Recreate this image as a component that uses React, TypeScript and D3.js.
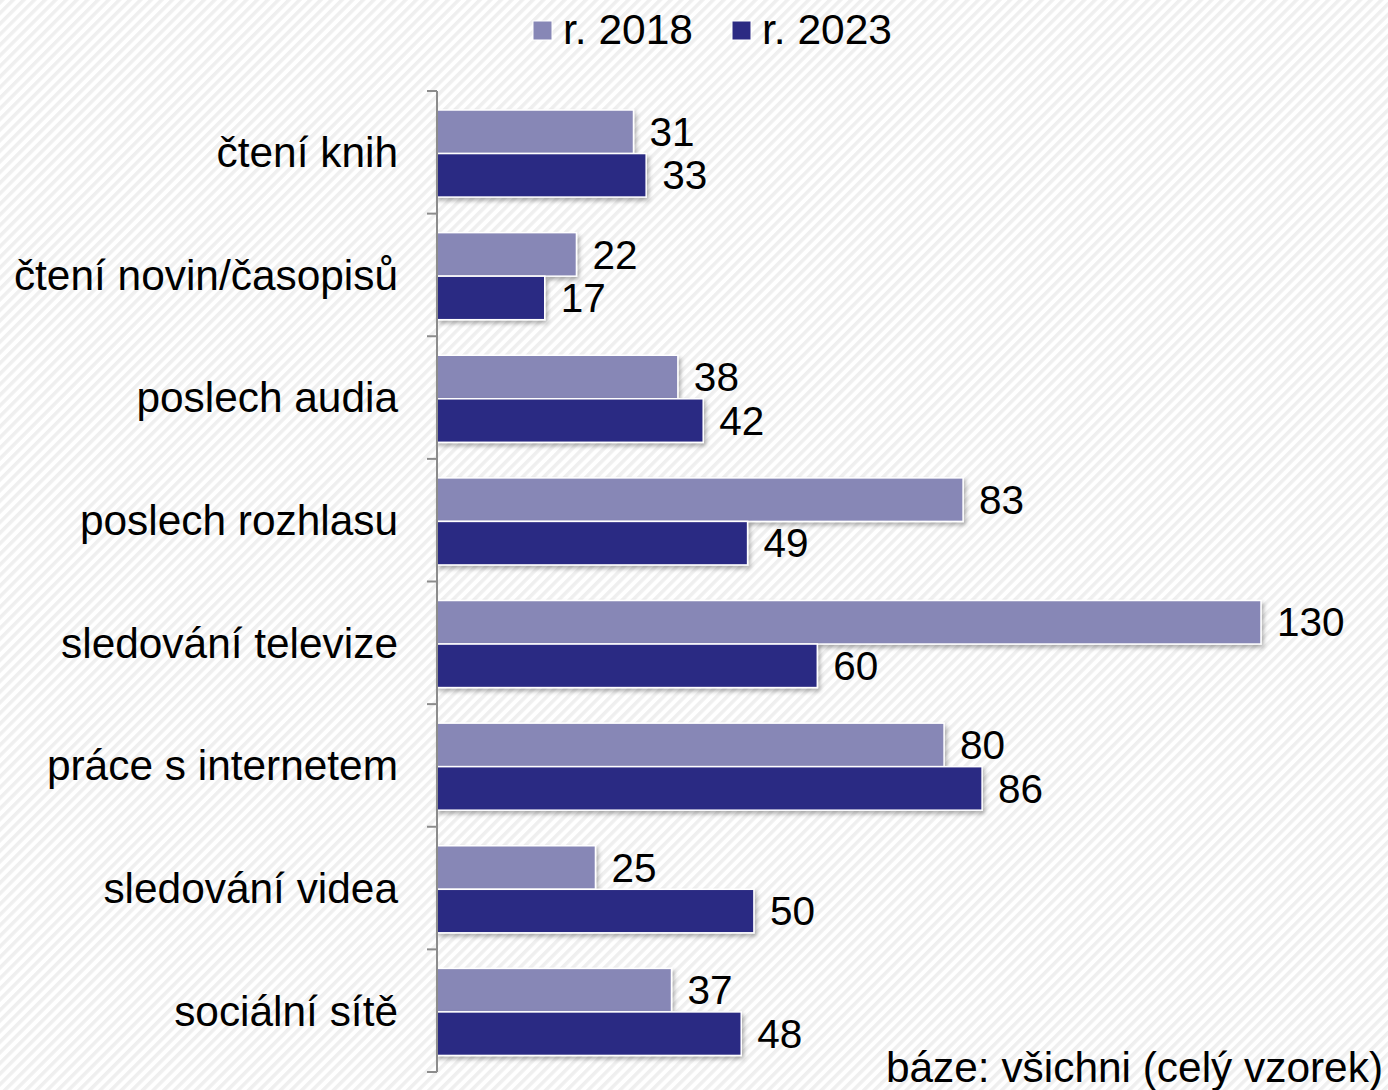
import * as React from 'react';
import {useEffect, useRef} from 'react';
import * as d3 from 'd3';

const categories = [
  'čtení knih',
  'čtení novin/časopisů',
  'poslech audia',
  'poslech rozhlasu',
  'sledování televize',
  'práce s internetem',
  'sledování videa',
  'sociální sítě',
];
const series = ['r. 2018', 'r. 2023'];
const values2018 = [31, 22, 38, 83, 130, 80, 25, 37];
const values2023 = [33, 17, 42, 49, 60, 86, 50, 48];
const colors = ['#8787b6', '#2c2a83'];
const footnote = 'báze: všichni (celý vzorek)';

const width = 1388;
const height = 1090;
const font = '"Liberation Sans", Arial, sans-serif';

export default function App() {
  const ref = useRef<SVGSVGElement>(null);

  useEffect(() => {
    const svg = d3.select(ref.current);
    svg.selectAll('*').remove();

    const defs = svg.append('defs');
    const pat = defs.append('pattern')
      .attr('id', 'hatch')
      .attr('patternUnits', 'userSpaceOnUse')
      .attr('width', 7.5)
      .attr('height', 7.5)
      .attr('patternTransform', 'rotate(45)');
    pat.append('rect').attr('width', 7.5).attr('height', 7.5).attr('fill', '#ffffff');
    pat.append('rect').attr('width', 3.5).attr('height', 7.5).attr('fill', '#efefef');

    const shadow = defs.append('filter')
      .attr('id', 'shadow')
      .attr('x', '-5%').attr('y', '-30%')
      .attr('width', '115%').attr('height', '180%');
    shadow.append('feDropShadow')
      .attr('dx', 2).attr('dy', 3)
      .attr('stdDeviation', 2)
      .attr('flood-color', '#000')
      .attr('flood-opacity', 0.3);

    svg.append('rect')
      .attr('width', width).attr('height', height)
      .attr('fill', 'url(#hatch)');

    const x0 = 437;
    const x = d3.scaleLinear().domain([0, 130]).range([x0, 1261]);
    const y = d3.scaleBand<string>().domain(categories).range([91, 1072]);
    const ySub = d3.scaleBand<string>()
      .domain(series)
      .range([y.bandwidth() * 0.155, y.bandwidth() * 0.865]);

    const data = categories.map((c, i) => ({cat: c, vals: [values2018[i], values2023[i]]}));

    const groups = svg.append('g')
      .selectAll('g')
      .data(data)
      .join('g')
      .attr('transform', d => `translate(0,${y(d.cat)})`);

    groups.selectAll('rect')
      .data(d => d.vals.map((v, j) => ({v, s: series[j], j})))
      .join('rect')
      .attr('x', x0)
      .attr('y', d => ySub(d.s)!)
      .attr('width', d => x(d.v) - x0)
      .attr('height', ySub.bandwidth())
      .attr('fill', d => colors[d.j])
      .attr('stroke', '#ffffff')
      .attr('stroke-width', 1.5)
      .attr('filter', 'url(#shadow)');

    groups.selectAll('text.val')
      .data(d => d.vals.map((v, j) => ({v, s: series[j]})))
      .join('text')
      .attr('class', 'val')
      .attr('x', d => x(d.v) + 16)
      .attr('y', d => ySub(d.s)! + ySub.bandwidth() / 2)
      .attr('dy', '0.35em')
      .style('font', `40.5px ${font}`)
      .attr('fill', '#000')
      .text(d => d.v);

    // category axis
    const axis = svg.append('g');
    axis.append('line')
      .attr('x1', x0).attr('x2', x0)
      .attr('y1', 91).attr('y2', 1072)
      .attr('stroke', '#8c8c8c').attr('stroke-width', 2);
    const tickYs = categories.map(c => y(c)!).concat([y.range()[1]]);
    axis.selectAll('line.tick')
      .data(tickYs)
      .join('line')
      .attr('class', 'tick')
      .attr('x1', x0 - 10).attr('x2', x0)
      .attr('y1', d => d).attr('y2', d => d)
      .attr('stroke', '#8c8c8c').attr('stroke-width', 2);
    axis.selectAll('text')
      .data(categories)
      .join('text')
      .attr('x', 398)
      .attr('y', d => y(d)! + y.bandwidth() / 2)
      .attr('dy', '0.35em')
      .attr('text-anchor', 'end')
      .style('font', `42.4px ${font}`)
      .attr('fill', '#000')
      .text(d => d);

    // legend
    const legendX = [533, 732];
    const legend = svg.append('g')
      .selectAll('g')
      .data(series)
      .join('g')
      .attr('transform', (d, i) => `translate(${legendX[i]},0)`);
    legend.append('rect')
      .attr('x', 0).attr('y', 21)
      .attr('width', 19).attr('height', 19)
      .attr('fill', (d, i) => colors[i])
      .attr('stroke', '#fff').attr('stroke-width', 1);
    legend.append('text')
      .attr('x', 30).attr('y', 44)
      .style('font', `42.5px ${font}`)
      .attr('fill', '#000')
      .text(d => d);

    svg.append('text')
      .attr('x', 1383).attr('y', 1082)
      .attr('text-anchor', 'end')
      .style('font', `42.4px ${font}`)
      .attr('fill', '#000')
      .text(footnote);
  }, []);

  return (
    <svg
      ref={ref}
      width={width}
      height={height}
      style={{position: 'absolute', left: 0, top: 0, display: 'block'}}
    />
  );
}
